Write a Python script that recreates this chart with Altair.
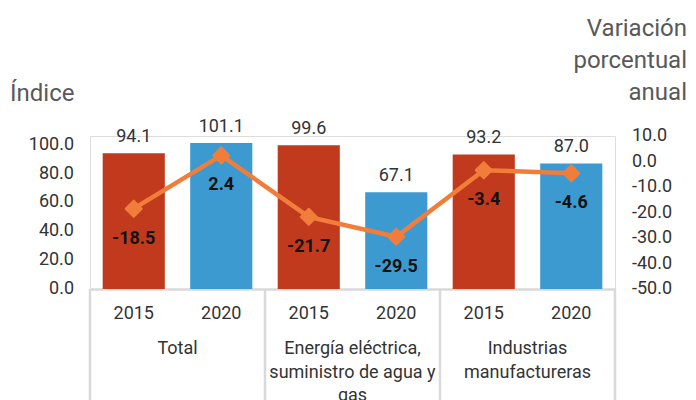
import altair as alt
import pandas as pd

groups = ["Total", "Energía eléctrica, suministro de agua y gas", "Industrias manufactureras"]
group_labels = ["Total", "Energía eléctrica,\nsuministro de agua y\ngas", "Industrias\nmanufactureras"]
years = ["2015", "2020", "2015", "2020", "2015", "2020"]
bar_groups = [groups[0], groups[0], groups[1], groups[1], groups[2], groups[2]]
indices = [94.1, 101.1, 99.6, 67.1, 93.2, 87.0]
variations = [-18.5, 2.4, -21.7, -29.5, -3.4, -4.6]
left_ticks = [0, 20, 40, 60, 80, 100]
right_ticks = [-50, -40, -30, -20, -10, 0, 10]
left_title = "Índice"
right_title = "Variación\nporcentual\nanual"

RED = "#C23A1E"
BLUE = "#3D9AD1"
ORANGE = "#F07E3A"
GRID = "#D9D9D9"
FONT = "Roboto"

keys = [f"{g}|{y}" for g, y in zip(bar_groups, years)]
df = pd.DataFrame({"key": keys, "year": years, "group": bar_groups,
                   "indice": indices, "var": variations})
gdf = pd.DataFrame({"group": groups, "label": group_labels})
ldf = pd.DataFrame({"tick": left_ticks})
rdf = pd.DataFrame({"tick": right_ticks})

W, H = 525, 153

xkey = alt.X("key:N", sort=keys,
             scale=alt.Scale(domain=keys, paddingInner=0.29, paddingOuter=0.145),
             axis=alt.Axis(title=None, labelAngle=0, ticks=False, tickSize=0,
                           domainColor=GRID, domainWidth=2.5,
                           labelExpr="split(datum.value, '|')[1]",
                           labelFont=FONT, labelFontSize=18, labelColor="#333333",
                           labelPadding=15, labelBaseline="top"))

lscale = alt.Scale(domain=[0, 106], nice=False, zero=True)
rscale = alt.Scale(domain=[-50, 10], nice=False, zero=False)

base = alt.Chart(df).transform_calculate(
    ilabel="replace(format(datum.indice, '.1f'), '\u2212', '-')",
    vlabel="replace(format(datum.var, '.1f'), '\u2212', '-')",
)

bars = base.mark_bar().encode(
    x=xkey,
    y=alt.Y("indice:Q", scale=lscale, axis=None),
    color=alt.Color("year:N", scale=alt.Scale(domain=["2015", "2020"], range=[RED, BLUE]),
                    legend=None),
)
bar_text = base.mark_text(font=FONT, fontSize=18, color="#333333", baseline="bottom",
                          dy=-7).encode(
    x=alt.X("key:N", sort=keys), y=alt.Y("indice:Q", axis=None),
    text="ilabel:N")
left_tick_text = alt.Chart(ldf).transform_calculate(
    lab="replace(format(datum.tick, '.1f'), '\u2212', '-')"
).mark_text(font=FONT, fontSize=18, color="#333333", align="right",
            baseline="middle").encode(
    x=alt.value(-16), y=alt.Y("tick:Q", axis=None), text="lab:N")

left_layer = alt.layer(bars, bar_text, left_tick_text)

line = base.mark_line(color=ORANGE, strokeWidth=4.5).encode(
    x=alt.X("key:N", sort=keys), y=alt.Y("var:Q", scale=rscale, axis=None))
pts = base.mark_point(shape="diamond", filled=True, size=260, color=ORANGE,
                      opacity=1, stroke=ORANGE, strokeWidth=2,
                      strokeJoin="round").encode(
    x=alt.X("key:N", sort=keys), y=alt.Y("var:Q", axis=None))
line_text = base.mark_text(font=FONT, fontSize=18, fontWeight="bold", color="#111111",
                           baseline="middle", dy=30).encode(
    x=alt.X("key:N", sort=keys), y=alt.Y("var:Q", axis=None),
    text="vlabel:N")
right_tick_text = alt.Chart(rdf).transform_calculate(
    lab="replace(format(datum.tick, '.1f'), '\u2212', '-')"
).mark_text(font=FONT, fontSize=18, color="#333333", align="left",
            baseline="middle").encode(
    x=alt.value(W + 17), y=alt.Y("tick:Q", axis=None), text="lab:N")
right_layer = alt.layer(line, pts, line_text, right_tick_text)

inner = alt.layer(left_layer, right_layer).resolve_scale(y="independent")

gscale = alt.Scale(domain=groups, paddingInner=0, paddingOuter=0)
gbase = alt.Chart(gdf)
group_text = gbase.mark_text(font=FONT, fontSize=18, color="#333333", baseline="top",
                             lineBreak="\n", lineHeight=23.5, align="center").encode(
    x=alt.X("group:N", sort=groups, scale=gscale, axis=None),
    y=alt.value(204),
    text="label:N")
rules_start = gbase.mark_rule(color=GRID, strokeWidth=2.5).encode(
    x=alt.X("group:N", sort=groups, scale=gscale, axis=None, bandPosition=0),
    y=alt.value(H), y2=alt.value(H + 120))
rules_end = gbase.transform_filter(alt.datum.group == groups[-1]).mark_rule(
    color=GRID, strokeWidth=2.5).encode(
    x=alt.X("group:N", sort=groups, scale=gscale, axis=None, bandPosition=1),
    y=alt.value(H), y2=alt.value(H + 120))

ltitle = alt.Chart(pd.DataFrame({"t": [left_title]})).mark_text(
    font=FONT, fontSize=24, color="#595959", align="left", baseline="alphabetic"
).encode(x=alt.value(-80), y=alt.value(-35), text="t:N")
rtitle = alt.Chart(pd.DataFrame({"t": [right_title]})).mark_text(
    font=FONT, fontSize=24, color="#595959", align="right", baseline="alphabetic",
    lineBreak="\n", lineHeight=32
).encode(x=alt.value(W + 72), y=alt.value(-100), text="t:N")

outer_g = alt.layer(rules_start, rules_end, group_text, ltitle, rtitle)

chart = alt.layer(inner, outer_g).resolve_scale(x="independent").properties(
    width=W, height=H,
    autosize=alt.AutoSizeParams(type="none"),
    padding={"left": 82, "top": 128, "right": 73, "bottom": 111},
).configure_view(stroke=None).configure(background="white")

chart.save("out.html", embed_options={"renderer": "svg", "actions": False})
